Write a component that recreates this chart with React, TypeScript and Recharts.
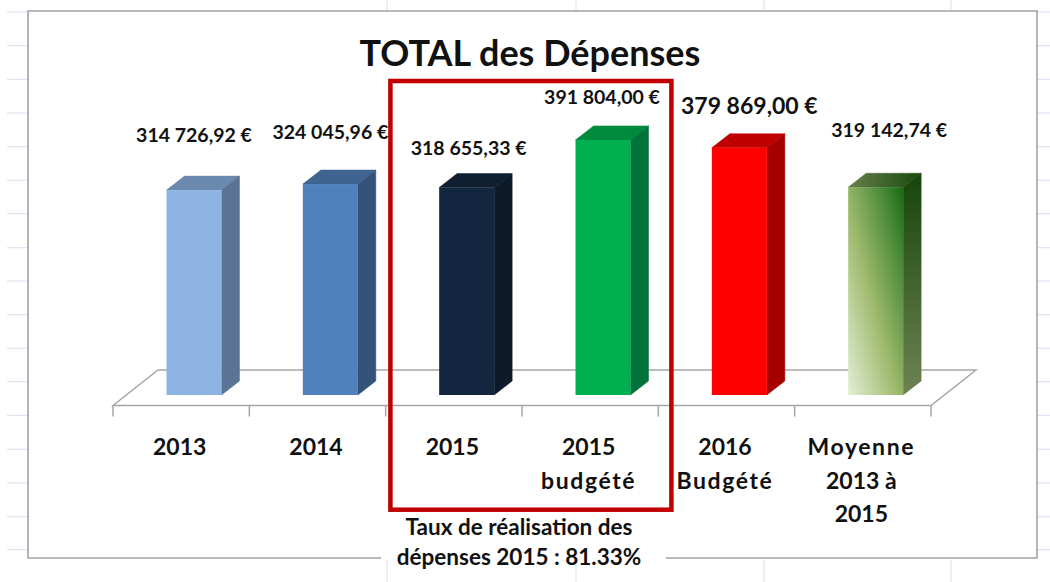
import React from "react";
import { BarChart, Bar, XAxis, YAxis, LabelList, usePlotArea } from "recharts";

const categories = ["2013", "2014", "2015", "2015\nbudgété", "2016\nBudgété", "Moyenne\n2013 à\n2015"];
const depenses = [314726.92, 324045.96, 318655.33, 391804.0, 379869.0, 319142.74];
const frontColors = ["#8eb4e3", "#4f81bd", "#132640", "#00b050", "#ff0000", "url(#avgFront)"];
const sideColors = ["#5b7394", "#345378", "#0d1a2a", "#00733a", "#a50000", "url(#avgSide)"];
const topColors = ["#6b88ae", "#3f6491", "#0f1e30", "#008a3e", "#c00000", "url(#avgTop)"];
const labelDx = [0, 0, 2, -1, 10, 13.5];
const labelDy = [-56, -53, -40, -43, -43, -58];
const labelSizes = [19.5, 19.5, 19.5, 19.5, 23, 19.5];
const title = "TOTAL des Dépenses";
const noteLines = ["Taux de réalisation des", "dépenses 2015 : 81.33%"];
const sheetRows = [12, 45.7, 79.3, 113, 146.7, 180.3, 213.7, 247.7, 281, 314.7, 348.3, 381.7, 415.3, 449.3, 483, 516.7, 549.7];
const sheetCols = [387, 576, 764, 951];

const rows = categories.map((name, i) => ({ name, value: depenses[i] }));
const FONT = "Lato, 'Open Sans', sans-serif";
const DEPTH_X = 18;
const DEPTH_Y = 14;

const fmt = (v: number) =>
  v.toFixed(2).replace(".", ",").replace(/\B(?=(\d{3})(?!\d))/g, " ") + " €";

function Sheet() {
  return (
    <g>
      {sheetRows.map((y) => (
        <g key={y} stroke="#d9dff0" strokeWidth={1}>
          <line x1={7} x2={28} y1={y} y2={y} />
          <line x1={1037} x2={1050} y1={y} y2={y} />
        </g>
      ))}
      {sheetCols.map((x) => (
        <g key={x} stroke="#d9dff0" strokeWidth={1}>
          <line x1={x} x2={x} y1={0} y2={10} />
          <line x1={x} x2={x} y1={560} y2={582} />
        </g>
      ))}
      <path d="M381 558 H28 V11 H1037 V558 H666" fill="#fff" stroke="#a3a3a3" strokeWidth={1.6} />
    </g>
  );
}

function Floor() {
  const area = usePlotArea();
  if (!area) return null;
  const step = area.width / categories.length;
  const left = area.x - 12.5;
  const right = left + area.width;
  const front = area.y + area.height + 10.5;
  const back = front - 35.5;
  const bounds = categories.map((_, i) => i).concat(categories.length);
  return (
    <g stroke="#a6a6a6" strokeWidth={1.5} fill="none">
      <path d={`M${left} ${front} L${left + 45} ${back} H${right + 45} L${right} ${front} Z`} />
      {bounds.map((i) => (
        <line key={i} x1={left + i * step} x2={left + i * step} y1={front} y2={front + 11} />
      ))}
    </g>
  );
}

function Overlay() {
  return (
    <g fontFamily={FONT} fill="#111">
      <text x={530} y={66} textAnchor="middle" fontSize={36} fontWeight={700}>{title}</text>
      <rect x={390.4} y={81} width={281} height={428.7} fill="none" stroke="#c00000" strokeWidth={4.5} />
      {noteLines.map((t, i) => (
        <text key={t} x={519} y={535 + i * 30} textAnchor="middle" fontSize={22.5} fontWeight={700}>{t}</text>
      ))}
    </g>
  );
}

function Bar3D(p: any) {
  const { x, y, width: w, height: h, index: i } = p;
  return (
    <g>
      <polygon
        points={`${x},${y} ${x + DEPTH_X},${y - DEPTH_Y} ${x + w + DEPTH_X},${y - DEPTH_Y} ${x + w},${y}`}
        fill={topColors[i]}
        stroke={topColors[i]}
        strokeWidth={0.5}
      />
      <polygon
        points={`${x + w},${y} ${x + w + DEPTH_X},${y - DEPTH_Y} ${x + w + DEPTH_X},${y + h - DEPTH_Y} ${x + w},${y + h}`}
        fill={sideColors[i]}
        stroke={sideColors[i]}
        strokeWidth={0.5}
      />
      <rect x={x} y={y} width={w} height={h} fill={frontColors[i]} />
    </g>
  );
}

function ValueLabel(p: any) {
  const { x, y, width, value, index: i } = p;
  return (
    <text
      x={x + width / 2 + labelDx[i]}
      y={y + labelDy[i]}
      textAnchor="middle"
      dominantBaseline="central"
      fontFamily={FONT}
      fontWeight={700}
      fontSize={labelSizes[i]}
      fill="#111"
    >
      {fmt(value)}
    </text>
  );
}

function CategoryTick(p: any) {
  const { x, y, payload } = p;
  const lines = String(payload.value).split("\n");
  return (
    <g>
      {lines.map((t, i) => (
        <text
          key={i}
          x={x - 14}
          y={y + 51 + i * 33.5}
          textAnchor="middle"
          dominantBaseline="central"
          fontFamily={FONT}
          fontWeight={700}
          fontSize={23}
          letterSpacing={/\d/.test(t) ? 0 : 1.6}
          fill="#111"
        >
          {t}
        </text>
      ))}
    </g>
  );
}

export default function App() {
  return (
    <div style={{ position: "absolute", left: 0, top: 0, width: 1050, height: 582, background: "#fff" }}>
      <BarChart
        width={1050}
        height={582}
        data={rows}
        barSize={55}
        margin={{ top: 69.5, right: 106.5, bottom: 157, left: 125.5 }}
      >
        <defs>
          <linearGradient id="avgFront" x1="0" y1="1" x2="1" y2="0">
            <stop offset="0" stopColor="#e4efd6" />
            <stop offset="0.45" stopColor="#9db96c" />
            <stop offset="0.8" stopColor="#4a8a38" />
            <stop offset="1" stopColor="#1a6a10" />
          </linearGradient>
          <linearGradient id="avgSide" x1="0" y1="0" x2="0" y2="1">
            <stop offset="0" stopColor="#17440c" />
            <stop offset="1" stopColor="#6e8452" />
          </linearGradient>
          <linearGradient id="avgTop" x1="0" y1="0" x2="1" y2="0">
            <stop offset="0" stopColor="#687f4c" />
            <stop offset="1" stopColor="#174a0c" />
          </linearGradient>
        </defs>
        <Sheet />
        <Floor />
        <XAxis
          dataKey="name"
          height={30}
          interval={0}
          axisLine={false}
          tickLine={false}
          tickMargin={0}
          tickSize={0}
          tick={<CategoryTick />}
        />
        <YAxis hide domain={[0, 500000]} />
        <Overlay />
        <Bar dataKey="value" shape={<Bar3D />} isAnimationActive={false}>
          <LabelList dataKey="value" content={<ValueLabel />} />
        </Bar>
      </BarChart>
    </div>
  );
}
